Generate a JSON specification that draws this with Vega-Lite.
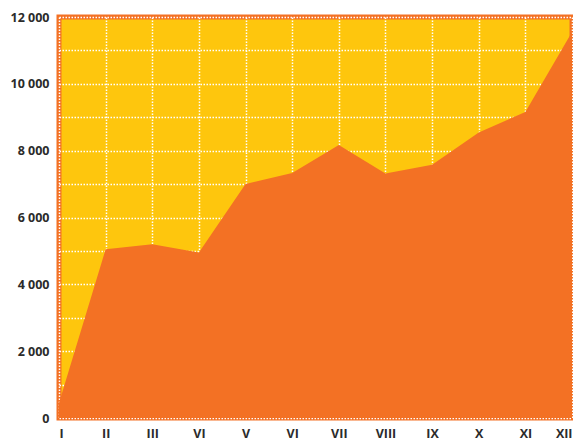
{
  "$schema": "https://vega.github.io/schema/vega-lite/v6.json",
  "width": 513,
  "height": 401,
  "autosize": "none",
  "padding": {"left": 59, "top": 17, "right": 1, "bottom": 26},
  "background": "white",
  "config": {
    "view": {"fill": "#FEC60D", "stroke": "#F37124", "strokeWidth": 5},
    "axis": {
      "labelFont": "Open Sans",
      "labelFontWeight": "bold",
      "labelFontSize": 12.5,
      "labelColor": "#2b2b2b",
      "domain": false,
      "ticks": false,
      "grid": true,
      "gridColor": "white",
      "gridDash": [1.5, 1.5],
      "gridWidth": 1.5,
      "gridOpacity": 1,
      "zindex": 1,
      "title": null
    }
  },
  "data": {
    "values": [
      {"m": 1, "v": 450},
      {"m": 2, "v": 5050},
      {"m": 3, "v": 5200},
      {"m": 4, "v": 4950},
      {"m": 5, "v": 7000},
      {"m": 6, "v": 7330},
      {"m": 7, "v": 8170},
      {"m": 8, "v": 7320},
      {"m": 9, "v": 7580},
      {"m": 10, "v": 8540},
      {"m": 11, "v": 9160},
      {"m": 12, "v": 11550}
    ]
  },
  "mark": {"type": "area", "color": "#F37124", "interpolate": "linear"},
  "encoding": {
    "x": {
      "field": "m",
      "type": "quantitative",
      "scale": {"domain": [1, 12], "nice": false, "zero": false},
      "axis": {
        "values": [1, 2, 3, 4, 5, 6, 7, 8, 9, 10, 11, 12],
        "labelExpr": "['I','II','III','VI','V','VI','VII','VIII','IX','X','XI','XII'][datum.value - 1]",
        "labelPadding": 9,
        "labelFlush": true,
        "labelOverlap": false
      }
    },
    "y": {
      "field": "v",
      "type": "quantitative",
      "scale": {"domain": [0, 12000], "nice": false},
      "axis": {
        "values": [0, 1000, 2000, 3000, 4000, 5000, 6000, 7000, 8000, 9000, 10000, 11000, 12000],
        "labelExpr": "datum.value % 2000 == 0 ? replace(format(datum.value, ','), ',', ' ') : ''",
        "labelPadding": 10,
        "labelOverlap": false,
        "labelFlush": false
      }
    }
  }
}
